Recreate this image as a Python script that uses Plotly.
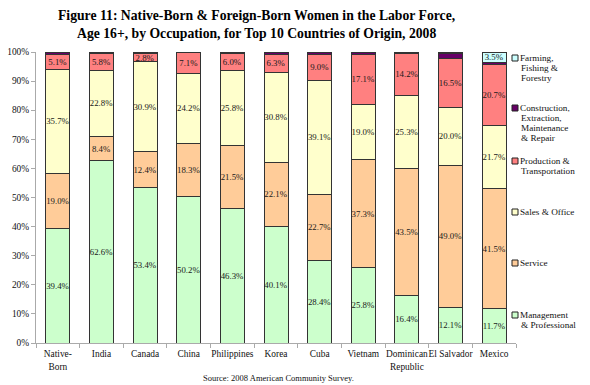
import plotly.graph_objects as go

categories = ["Native-<br>Born", "India", "Canada", "China", "Philippines", "Korea",
              "Cuba", "Vietnam", "Dominican<br>Republic", "El Salvador", "Mexico"]

management = [39.4, 62.6, 53.4, 50.2, 46.3, 40.1, 28.4, 25.8, 16.4, 12.1, 11.7]
service = [19.0, 8.4, 12.4, 18.3, 21.5, 22.1, 22.7, 37.3, 43.5, 49.0, 41.5]
sales = [35.7, 22.8, 30.9, 24.2, 25.8, 30.8, 39.1, 19.0, 25.3, 20.0, 21.7]
production = [5.1, 5.8, 2.8, 7.1, 6.0, 6.3, 9.0, 17.1, 14.2, 16.5, 20.7]
construction = [0.6, 0.3, 0.4, 0.2, 0.3, 0.6, 0.7, 0.7, 0.5, 1.8, 0.9]
farming = [0.2, 0.1, 0.1, 0.0, 0.1, 0.1, 0.1, 0.1, 0.1, 0.6, 3.5]

series = [
    ("Management & Professional", management, "#CCFFCC"),
    ("Service", service, "#FFCC99"),
    ("Sales & Office", sales, "#FFFFCC"),
    ("Production & Transportation", production, "#FF8080"),
    ("Construction, Extraction, Maintenance & Repair", construction, "#660066"),
    ("Farming, Fishing & Forestry", farming, "#CCFFFF"),
]

SERIF = "Liberation Serif"

fig = go.Figure()
for name, vals, color in series:
    labels = [f"{v:.1f}%" if v >= 2.5 else "" for v in vals]
    fig.add_trace(go.Bar(
        x=categories, y=vals, name=name,
        marker=dict(color=color, line=dict(color="#333333", width=1)),
        text=labels, textposition="inside", insidetextanchor="middle",
        textangle=0, constraintext="none",
        textfont=dict(family=SERIF, size=8.8, color="#1a1a1a"),
        showlegend=False, hoverinfo="skip",
    ))

W, H = 590, 385
L, R, T, B = 36, 74, 52, 42
pw, ph = W - L - R, H - T - B

def px_x(px):
    return (px - L) / pw

def px_y(py):
    return (H - B - py) / ph

legend_rows = [
    (["Farming,", "Fishing &", "Forestry"], "#CCFFFF", 58),
    (["Construction,", "Extraction,", "Maintenance", "& Repair"], "#660066", 108),
    (["Production &", "Transportation"], "#FF8080", 161),
    (["Sales & Office"], "#FFFFCC", 212),
    (["Service"], "#FFCC99", 263),
    (["Management", "& Professional"], "#CCFFCC", 315),
]
annotations = []
shapes = []
for lines, color, cy in legend_rows:
    shapes.append(dict(type="rect", xref="paper", yref="paper",
                       x0=px_x(512), x1=px_x(518), y0=px_y(cy + 3), y1=px_y(cy - 3),
                       fillcolor=color, line=dict(color="#222222", width=1)))
    for i, line in enumerate(lines):
        annotations.append(dict(text=line, xref="paper", yref="paper",
                                x=px_x(518 if i == 0 else 519), y=px_y(cy + 10 * i),
                                xanchor="left", yanchor="middle", showarrow=False,
                                font=dict(family=SERIF, size=9.2, color="#111111")))

title_lines = [("Figure 11: Native-Born & Foreign-Born Women in the Labor Force,", 15),
               ("Age 16+, by Occupation, for Top 10 Countries of Origin, 2008", 33)]
for txt, cy in title_lines:
    annotations.append(dict(text=f"<b>{txt}</b>", xref="paper", yref="paper",
                            x=px_x(256), y=px_y(cy), xanchor="center", yanchor="middle",
                            showarrow=False,
                            font=dict(family=SERIF, size=13.7, color="#000000")))

annotations.append(dict(text="Source: 2008 American Community Survey.",
                        xref="paper", yref="paper", x=px_x(278), y=px_y(378),
                        xanchor="center", yanchor="middle", showarrow=False,
                        font=dict(family=SERIF, size=8.5, color="#111111")))

fig.update_layout(
    barmode="stack",
    bargap=0.45,
    width=W, height=H,
    font=dict(family=SERIF),
    margin=dict(l=L, r=R, t=T, b=B, autoexpand=False),
    paper_bgcolor="white", plot_bgcolor="white",
    xaxis=dict(showline=True, linecolor="#AAAAAA", linewidth=1,
               ticks="outside", tickson="boundaries", ticklen=4, tickcolor="#AAAAAA",
               tickfont=dict(family=SERIF, size=9.4, color="#111111"),
               ticklabelstandoff=2,
               tickangle=0, showgrid=False, automargin=False),
    yaxis=dict(range=[0, 100], tickvals=list(range(0, 101, 10)),
               ticktext=[f"{v}%" for v in range(0, 101, 10)],
               showline=True, linecolor="#AAAAAA", linewidth=1,
               ticks="outside", ticklen=4, tickcolor="#AAAAAA",
               tickfont=dict(family=SERIF, size=9.4, color="#111111"),
               showgrid=False, zeroline=False, automargin=False),
    annotations=annotations,
    shapes=shapes,
    uniformtext=dict(mode=False),
)

fig.write_html("out.html",
               config={"displayModeBar": False},
               post_script="document.body.style.margin='0';document.body.style.overflow='hidden';")
